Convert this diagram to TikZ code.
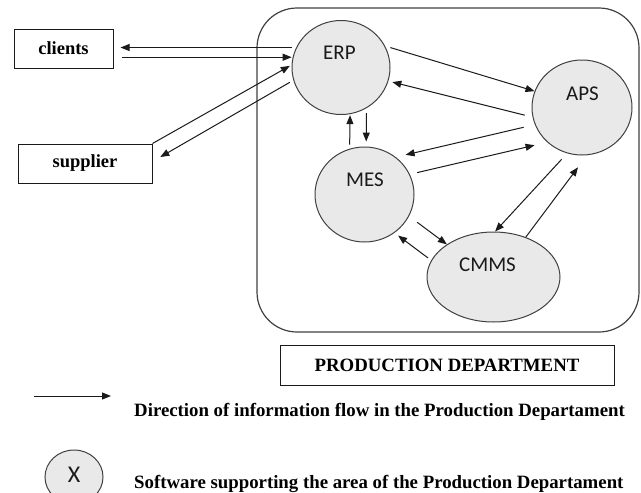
\documentclass[tikz,border=0pt]{standalone}
\usepackage{fontspec}
\setmainfont{Liberation Serif}
\newfontfamily\labelfont{Carlito}
\usetikzlibrary{arrows.meta,shapes.geometric}
\definecolor{softfill}{HTML}{E9E9E9}
\definecolor{rim}{HTML}{404040}
\definecolor{ink}{HTML}{1A1A1A}
\begin{document}
\begin{tikzpicture}[x=1pt,y=-1pt,
  sysnode/.style={ellipse,draw=rim,fill=softfill,line width=1pt,inner sep=0pt},
  syslabel/.style={font=\labelfont\fontsize{21}{24}\selectfont,text=ink,inner sep=0pt},
  actor/.style={draw=ink,line width=1pt,minimum height=39pt,inner sep=0pt,
    font=\bfseries\fontsize{18.5}{22}\selectfont},
  flow/.style={draw=ink,line width=1pt,-{Triangle[length=9pt,width=7pt]}},
  note/.style={font=\bfseries\fontsize{18.8}{22}\selectfont,inner sep=0pt,anchor=base west}]
\useasboundingbox (0,0) rectangle (641,493);

% production department frame
\node[draw=rim,line width=1.2pt,rounded corners=40pt,minimum width=382pt,
  minimum height=324pt,inner sep=0pt] (dept) at (448,170) {};

% external parties
\node[actor,minimum width=99pt] (clients) at (63.5,48.5) {clients};
\node[actor,minimum width=134pt] (supplier) at (85,163.5) {supplier};

% software systems
\node[sysnode,minimum width=98pt,minimum height=94pt] (erp) at (341,67.5) {};
\node[sysnode,minimum width=100pt,minimum height=95pt] (aps) at (582,107.5) {};
\node[sysnode,minimum width=99pt,minimum height=95pt] (mes) at (364.5,194.5) {};
\node[sysnode,minimum width=133pt,minimum height=90pt] (cmms) at (493.5,277) {};
\node[syslabel] (erplbl) at ([xshift=-1.5pt,yshift=14.5pt]erp.center) {ERP};
\node[syslabel] (apslbl) at ([xshift=0.5pt,yshift=13.5pt]aps.center) {APS};
\node[syslabel] (meslbl) at ([xshift=0.5pt,yshift=14.5pt]mes.center) {MES};
\node[syslabel] (cmmslbl) at ([xshift=-6pt,yshift=12pt]cmms.center) {CMMS};

% exchanges with the outside
\draw[flow,shorten <=4pt,shorten >=7pt] (erp.156) -- (erp.156 -| clients.east);
\draw[flow,shorten <=8pt,shorten >=1pt] (erp.168 -| clients.east) -- (erp.168);
\draw[flow,shorten >=2pt] (supplier.north east) -- (erp.177);
\draw[flow,shorten <=4pt,shorten >=9pt] (erp.195) -- ([yshift=2pt]supplier.east);

% flows between the systems
\draw[flow,shorten <=5.5pt] (erp.26) -- (aps.161);
\draw[flow,shorten <=8pt,shorten >=4pt] (aps.191) -- (erp.344);
\draw[flow,shorten <=4pt,shorten >=1pt] (mes.108) -- (erp.281);
\draw[flow,shorten <=5pt,shorten >=5pt] (erp.302) -- (mes.88);
\draw[flow,shorten <=11.5pt,shorten >=10pt] (aps.200) -- (mes.50);
\draw[flow,shorten <=7.5pt,shorten >=13pt] (mes.24) -- (aps.225);
\draw[flow,shorten <=8pt] (aps.252) -- (cmms.88);
\draw[flow,shorten >=15pt] (cmms.51) -- (aps.276);
\draw[flow,shorten <=10pt] (mes.334) -- (cmms.145);
\draw[flow,shorten <=4pt,shorten >=4.5pt] (cmms.165) -- (mes.308);

% caption box
\node[draw=ink,line width=1pt,minimum width=334pt,minimum height=40pt,inner sep=0pt,
  font=\bfseries\fontsize{18.8}{22}\selectfont] (caption) at (447,365) {PRODUCTION DEPARTMENT};

% legend
\coordinate (legtail) at (34,396);
\coordinate (leghead) at (111,396);
\draw[flow] (legtail) -- (leghead);
\node[note] (legflow) at (134,416) {Direction of information flow in the Production Departament};
\node[sysnode,minimum width=58pt,minimum height=54pt] (legsys) at (74,477) {};
\node[syslabel,font=\labelfont\fontsize{24}{26}\selectfont] (legx) at ([yshift=2pt]legsys.center) {X};
\node[note] (legsw) at (134,488) {Software supporting the area of the Production Departament};
\end{tikzpicture}
\end{document}
